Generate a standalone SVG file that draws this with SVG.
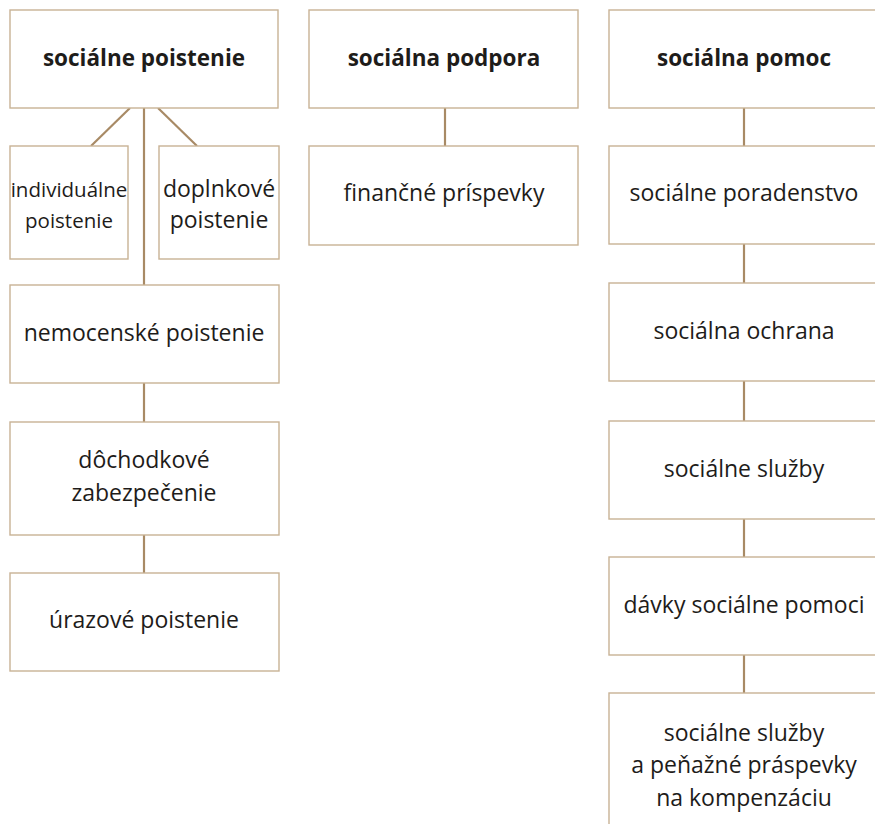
<svg xmlns="http://www.w3.org/2000/svg" width="875" height="824" viewBox="0 0 875 824">
<style>
.box{fill:#fff;stroke:#c8b295;stroke-width:1.4}
.c{stroke:#a88a65;stroke-width:2.2;fill:none}
text{font-family:"Open Sans","Noto Sans",sans-serif;font-size:23px;fill:#1e1c1a;text-anchor:middle}
.b{font-weight:bold;font-size:22.5px}
.s{font-size:20.5px}
</style>
<rect width="875" height="824" fill="#fff"/>
<g id="connectors">
<line class="c" x1="144" y1="108" x2="144" y2="285"/>
<line class="c" x1="130" y1="108" x2="91" y2="146"/>
<line class="c" x1="158" y1="108" x2="197" y2="146"/>
<line class="c" x1="144" y1="383" x2="144" y2="422"/>
<line class="c" x1="144" y1="535" x2="144" y2="573"/>
<line class="c" x1="445" y1="108" x2="445" y2="146"/>
<line class="c" x1="744" y1="108" x2="744" y2="146"/>
<line class="c" x1="744" y1="244" x2="744" y2="283"/>
<line class="c" x1="744" y1="381" x2="744" y2="421"/>
<line class="c" x1="744" y1="519" x2="744" y2="557"/>
<line class="c" x1="744" y1="655" x2="744" y2="693"/>
</g>
<g id="n-poistenie"><rect class="box" x="10" y="10" width="268" height="98"/><text class="b" x="144" y="66">sociálne poistenie</text></g>
<g id="n-individualne"><rect class="box" x="10" y="146" width="118" height="113"/><text class="s" x="69" y="197">individuálne</text><text class="s" x="69" y="228">poistenie</text></g>
<g id="n-doplnkove"><rect class="box" x="159" y="146" width="120" height="113"/><text x="219" y="197">doplnkové</text><text x="219" y="228">poistenie</text></g>
<g id="n-nemocenske"><rect class="box" x="10" y="285" width="269" height="98"/><text x="144" y="341">nemocenské poistenie</text></g>
<g id="n-dochodkove"><rect class="box" x="10" y="422" width="269" height="113"/><text x="144" y="468">dôchodkové</text><text x="144" y="501">zabezpečenie</text></g>
<g id="n-urazove"><rect class="box" x="10" y="573" width="269" height="98"/><text x="144" y="628">úrazové poistenie</text></g>
<g id="n-podpora"><rect class="box" x="309" y="10" width="269" height="98"/><text class="b" x="444" y="66">sociálna podpora</text></g>
<g id="n-financne"><rect class="box" x="309" y="146" width="269" height="99"/><text x="444" y="201">finančné príspevky</text></g>
<g id="n-pomoc"><rect class="box" x="609" y="10" width="280" height="98"/><text class="b" x="744" y="66">sociálna pomoc</text></g>
<g id="n-poradenstvo"><rect class="box" x="609" y="146" width="280" height="98"/><text x="744" y="201">sociálne poradenstvo</text></g>
<g id="n-ochrana"><rect class="box" x="609" y="283" width="280" height="98"/><text x="744" y="339">sociálna ochrana</text></g>
<g id="n-sluzby"><rect class="box" x="609" y="421" width="280" height="98"/><text x="744" y="477">sociálne služby</text></g>
<g id="n-davky"><rect class="box" x="609" y="557" width="280" height="98"/><text x="744" y="613">dávky sociálne pomoci</text></g>
<g id="n-kompenzacia"><rect class="box" x="609" y="693" width="280" height="140"/><text x="744" y="741">sociálne služby</text><text x="744" y="773">a peňažné práspevky</text><text x="744" y="806">na kompenzáciu</text></g>
</svg>
